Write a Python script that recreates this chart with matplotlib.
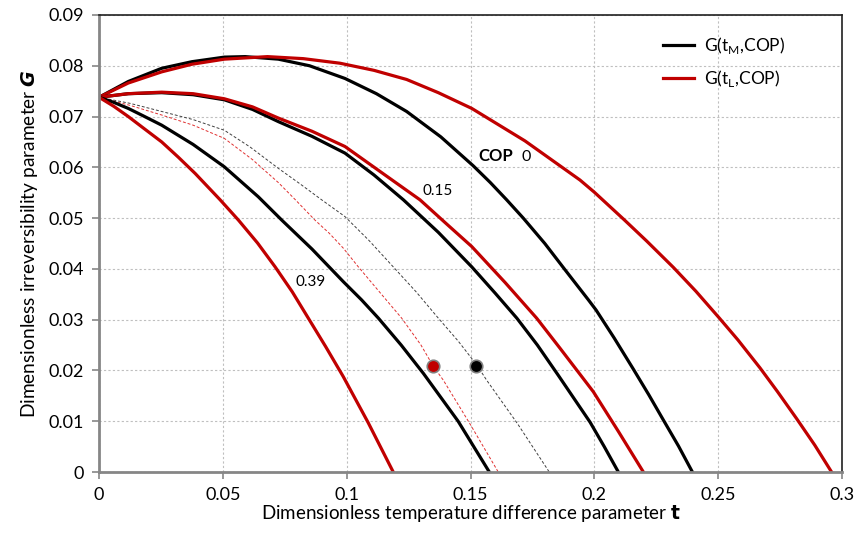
import matplotlib
matplotlib.use('Agg')
import matplotlib.pyplot as plt

plt.rcParams['font.family'] = ['Lato', 'DejaVu Sans']

# curves (t, G)
tm_cop0_t = [0, 0.0118, 0.0253, 0.0375, 0.0506, 0.059, 0.0724, 0.085, 0.0993, 0.112, 0.1242, 0.138, 0.1511,
             0.158, 0.1646, 0.1713, 0.18, 0.1882, 0.1976, 0.2007, 0.208, 0.2157, 0.222, 0.2278, 0.234, 0.2396]
tm_cop0_g = [0.0738, 0.0769, 0.0795, 0.0808, 0.0817, 0.0818, 0.0813, 0.0800, 0.0775, 0.0745, 0.0710, 0.0660, 0.0603,
             0.0570, 0.0536, 0.0500, 0.0450, 0.0398, 0.0339, 0.0319, 0.0264, 0.0203, 0.0152, 0.0103, 0.0051, 0.0]

tl_cop0_t = [0, 0.0118, 0.0253, 0.0375, 0.0506, 0.068, 0.0825, 0.0973, 0.111, 0.1242, 0.137, 0.1505, 0.172,
             0.1942, 0.2, 0.212, 0.2211, 0.2319, 0.241, 0.2505, 0.258, 0.2669, 0.274, 0.2817, 0.289, 0.2958]
tl_cop0_g = [0.0738, 0.0766, 0.0788, 0.0803, 0.0813, 0.0818, 0.0814, 0.0805, 0.0791, 0.0773, 0.0747, 0.0716, 0.0652,
             0.0575, 0.0551, 0.0497, 0.0455, 0.0403, 0.0356, 0.0303, 0.0260, 0.0205, 0.0158, 0.0105, 0.0053, 0.0]

tm_cop15_t = [0, 0.0118, 0.0253, 0.038, 0.0506, 0.062, 0.0724, 0.086, 0.0993, 0.111, 0.1229, 0.137, 0.1505,
              0.160, 0.1687, 0.177, 0.1855, 0.1983, 0.204, 0.2097]
tm_cop15_g = [0.0738, 0.0745, 0.0747, 0.0743, 0.0733, 0.0714, 0.0690, 0.0661, 0.0628, 0.0585, 0.0536, 0.0472, 0.0404,
              0.0352, 0.0303, 0.0250, 0.0190, 0.0098, 0.0050, 0.0]

tl_cop15_t = [0, 0.0118, 0.0253, 0.038, 0.0506, 0.062, 0.0724, 0.086, 0.0993, 0.114, 0.1296, 0.140, 0.1505,
              0.164, 0.1767, 0.1861, 0.1949, 0.1996, 0.2097, 0.2198]
tl_cop15_g = [0.0738, 0.0745, 0.0748, 0.0745, 0.0735, 0.0719, 0.0697, 0.0671, 0.0641, 0.0590, 0.0536, 0.0490, 0.0444,
              0.0373, 0.0303, 0.0244, 0.0188, 0.0158, 0.0080, 0.0]

tm_cop39_t = [0, 0.0059, 0.0118, 0.018, 0.0253, 0.038, 0.0506, 0.0643, 0.0738, 0.086, 0.0986, 0.106, 0.1128,
              0.122, 0.131, 0.145, 0.1576]
tm_cop39_g = [0.0738, 0.0728, 0.0716, 0.0701, 0.0683, 0.0645, 0.0601, 0.0542, 0.0496, 0.0439, 0.0375, 0.0339, 0.0303,
              0.0250, 0.0194, 0.0100, 0.0]

tl_cop39_t = [0, 0.006, 0.0118, 0.018, 0.0253, 0.032, 0.0388, 0.0489, 0.0563, 0.064, 0.0711, 0.078, 0.0845,
              0.0915, 0.0986, 0.1087, 0.1188]
tl_cop39_g = [0.0738, 0.0720, 0.0700, 0.0677, 0.0650, 0.0620, 0.0588, 0.0536, 0.0496, 0.0451, 0.0404, 0.0355, 0.0303,
              0.0247, 0.0188, 0.0097, 0.0]

# thin dashed curves
dash_m_t = [0, 0.0125, 0.0253, 0.038, 0.0506, 0.061, 0.0724, 0.081, 0.0899, 0.0993, 0.109, 0.1188, 0.128,
            0.137, 0.145, 0.1525, 0.1565, 0.169, 0.1818]
dash_m_g = [0.0738, 0.0726, 0.0710, 0.0694, 0.0673, 0.0640, 0.0598, 0.0568, 0.0536, 0.0503, 0.0456, 0.0404, 0.0355,
            0.0303, 0.0258, 0.0211, 0.0181, 0.0095, 0.0]

dash_l_t = [0, 0.0125, 0.0253, 0.038, 0.0506, 0.062, 0.0724, 0.0791, 0.0872, 0.093, 0.0986, 0.1047, 0.113,
            0.1222, 0.130, 0.135, 0.139, 0.150, 0.1612]
dash_l_g = [0.0738, 0.0722, 0.0703, 0.0683, 0.0657, 0.0615, 0.0570, 0.0537, 0.0496, 0.0470, 0.0441, 0.0404, 0.0356,
            0.0303, 0.0250, 0.0208, 0.0181, 0.0093, 0.0]

# optimum points
pt_m = (0.1522, 0.0208)
pt_l = (0.1349, 0.0208)

RED = '#c00000'
AXC = '#868686'

fig = plt.figure(figsize=(8.59, 5.33), dpi=100)
ax = fig.add_axes([0.1153, 0.1144, 0.8649, 0.8575])

ax.plot(dash_m_t, dash_m_g, color='#404040', lw=0.7, ls=(0, (3, 2)))
ax.plot(dash_l_t, dash_l_g, color='#e03030', lw=0.7, ls=(0, (3, 2)))

lw = 2.3
ax.plot(tm_cop0_t, tm_cop0_g, color='black', lw=lw, label='G(t$_\\mathregular{M}$,COP)')
ax.plot(tl_cop0_t, tl_cop0_g, color=RED, lw=lw, label='G(t$_\\mathregular{L}$,COP)')
ax.plot(tm_cop15_t, tm_cop15_g, color='black', lw=lw)
ax.plot(tl_cop15_t, tl_cop15_g, color=RED, lw=lw)
ax.plot(tm_cop39_t, tm_cop39_g, color='black', lw=lw)
ax.plot(tl_cop39_t, tl_cop39_g, color=RED, lw=lw)

ax.plot(*pt_m, 'o', ms=9, mfc='black', mec='#808080', mew=1.2, zorder=5)
ax.plot(*pt_l, 'o', ms=9, mfc=RED, mec='#808080', mew=1.2, zorder=5)

ax.text(0.1530, 0.0622, 'COP', fontsize=12, fontweight='bold', va='center')
ax.text(0.1705, 0.0620, '0', fontsize=11.5, va='center')
ax.text(0.1369, 0.0554, '0.15', fontsize=11, ha='center', va='center')
ax.text(0.0856, 0.0375, '0.39', fontsize=11, ha='center', va='center')

ax.set_xlim(0, 0.3)
ax.set_ylim(0, 0.09)
ax.set_xticks([0, 0.05, 0.1, 0.15, 0.2, 0.25, 0.3])
ax.set_xticklabels(['0', '0.05', '0.1', '0.15', '0.2', '0.25', '0.3'])
ax.set_yticks([0, 0.01, 0.02, 0.03, 0.04, 0.05, 0.06, 0.07, 0.08, 0.09])
ax.set_yticklabels(['0', '0.01', '0.02', '0.03', '0.04', '0.05', '0.06', '0.07', '0.08', '0.09'])
ax.tick_params(labelsize=13, length=5, width=1.2, color=AXC)
ax.tick_params(axis='x', pad=6)
ax.tick_params(axis='y', pad=6)

ax.grid(True, color='#bfbfbf', ls=(0, (2, 2)), lw=0.8)
ax.set_axisbelow(True)
for s in ['left', 'bottom']:
    ax.spines[s].set_color(AXC)
    ax.spines[s].set_linewidth(2)
for s in ['top', 'right']:
    ax.spines[s].set_color('#202020')
    ax.spines[s].set_linewidth(1.2)

ax.set_xlabel('Dimensionless temperature difference parameter $\\mathbf{t}$', fontsize=13.5, labelpad=0)
ax.set_ylabel('Dimensionless irreversibility parameter $\\boldsymbol{G}$', fontsize=13.8, labelpad=6)

ax.legend(loc='upper right', bbox_to_anchor=(0.945, 0.99), frameon=False, fontsize=12.5,
          handlelength=1.8, handletextpad=0.6, labelspacing=0.7)

fig.savefig('out.png', dpi=100)
